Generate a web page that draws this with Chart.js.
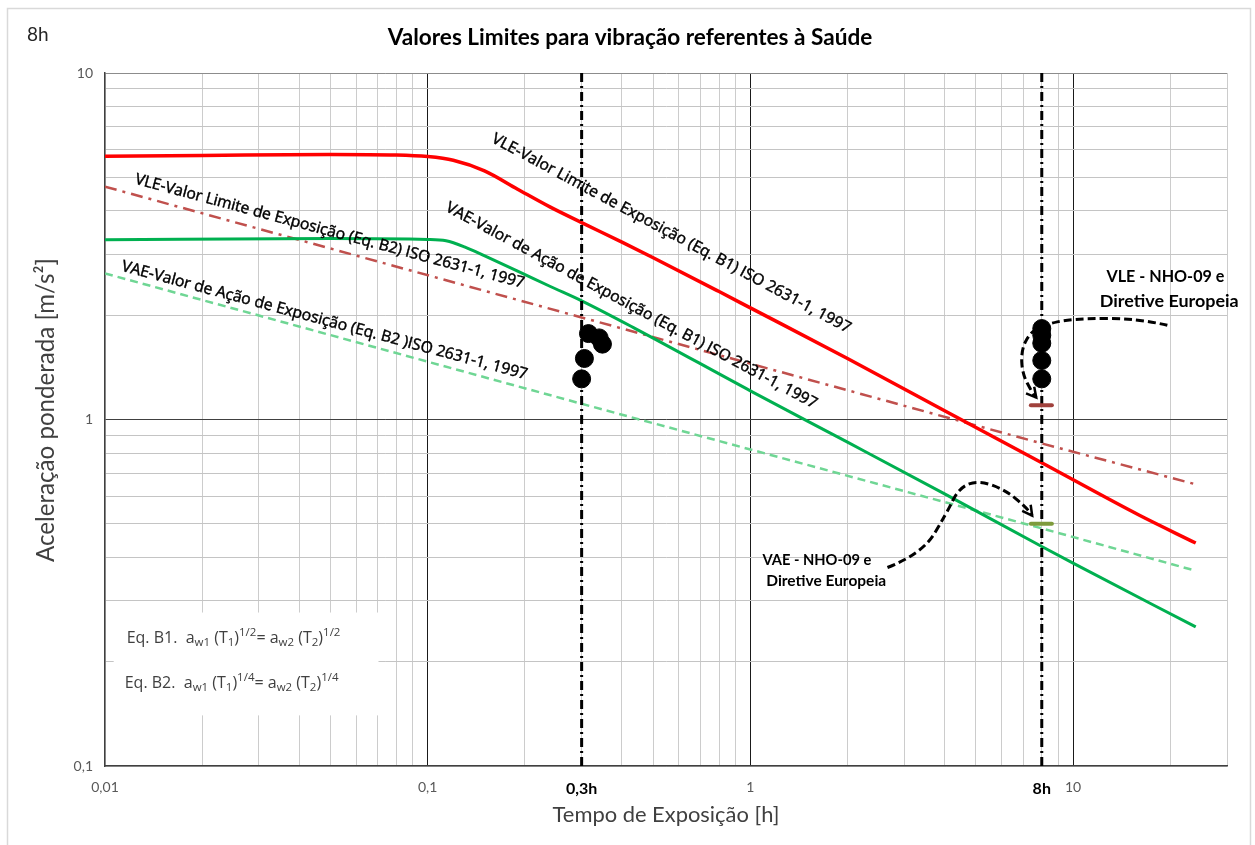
<!DOCTYPE html>
<html lang="pt">
<head>
<meta charset="UTF-8">
<title>Valores Limites para vibração</title>
<script src="https://cdn.jsdelivr.net/npm/chart.js"></script>
<style>
    body { margin: 0; background: #fff; }
    .chart-box { width: 1255px; height: 845px; position: relative; }
</style>
</head>
<body>
<div class="chart-box"><canvas id="chart"></canvas></div>
<script>
// ---- data (T in hours, a in m/s²) ----
const tVleB1 = [0.01, 0.02, 0.05, 0.08, 0.1, 0.12, 0.15, 0.19, 0.24, 0.3, 0.4, 0.5, 0.8, 1, 2, 4, 8, 16, 24];
const aVleB1 = [5.75, 5.78, 5.82, 5.8, 5.74, 5.6, 5.22, 4.62, 4.1, 3.7, 3.25, 2.93, 2.34, 2.1, 1.5, 1.06, 0.75, 0.53, 0.44];

const tVaeB1 = [0.01, 0.05, 0.1, 0.114, 0.13, 0.152, 0.19, 0.24, 0.3, 0.44, 1, 2, 4, 8, 10, 24];
const aVaeB1 = [3.3, 3.33, 3.31, 3.28, 3.15, 2.95, 2.68, 2.42, 2.2, 1.83, 1.21, 0.86, 0.61, 0.43, 0.385, 0.252];

const tVleB2 = [0.01, 0.3, 8, 24];
const aVleB2 = [4.7, 1.97, 0.853, 0.65];

const tVaeB2 = [0.01, 0.3, 8, 24];
const aVaeB2 = [2.64, 1.11, 0.485, 0.366];

const tDots = [0.315, 0.34, 0.348, 0.306, 0.30, 8, 8, 8, 8, 8];
const aDots = [1.77, 1.72, 1.65, 1.50, 1.31, 1.83, 1.75, 1.66, 1.48, 1.31];

const tNho = [7.4, 8.6];
const aVleNho = [1.1, 1.1];
const aVaeNho = [0.5, 0.5];

const markTimes = [0.3, 8];

const xTicks = [0.01, 0.02, 0.03, 0.04, 0.05, 0.06, 0.07, 0.08, 0.09,
                0.1, 0.2, 0.3, 0.4, 0.5, 0.6, 0.7, 0.8, 0.9,
                1, 2, 3, 4, 5, 6, 7, 8, 9, 10, 20, 30];
const yTicks = [0.1, 0.2, 0.3, 0.4, 0.5, 0.6, 0.7, 0.8, 0.9,
                1, 2, 3, 4, 5, 6, 7, 8, 9, 10];
const xLabels = { 0.01: '0,01', 0.1: '0,1', 0.3: '0,3h', 1: '1', 8: '8h', 10: '10' };
const yLabels = { 0.1: '0,1', 1: '1', 10: '10' };

const FONT = 'Lato, "Open Sans", sans-serif';
const NOTE_FONT = '"Open Sans", Lato, sans-serif';

const pts = (ts, as) => ts.map((t, i) => ({ x: t, y: as[i] }));

// annotation texts placed in data space
const curveLabels = [
    { text: 'VLE-Valor Limite de Exposição (Eq. B1) ISO 2631-1, 1997', t: 0.569, a: 3.44, slope: 0.5, len: 405 },
    { text: 'VLE-Valor Limite de Exposição (Eq. B2) ISO 2631-1, 1997', t: 0.0497, a: 3.49, slope: 0.25, len: 403 },
    { text: 'VAE-Valor de Ação de Exposição (Eq. B1) ISO 2631-1, 1997', t: 0.428, a: 2.13, slope: 0.5, len: 419 },
    { text: 'VAE-Valor de Ação de Exposição (Eq. B2 )ISO 2631-1, 1997', t: 0.0479, a: 1.93, slope: 0.25, len: 420 }
];
const boldLabels = [
    { text: 'VLE - NHO-09 e', t: 12.7, a: 2.59, w: 118 },
    { text: 'Diretive Europeia', t: 12.1, a: 2.20, w: 139 },
    { text: 'VAE - NHO-09 e', t: 1.09, a: 0.392, w: 109 },
    { text: 'Diretive Europeia', t: 1.12, a: 0.342, w: 120 }
];
const arrowVle = { t: [19.6, 16.0, 9.94, 8.03, 7.32, 6.91, 6.96, 7.47, 7.69], a: [1.87, 1.957, 1.957, 1.87, 1.77, 1.58, 1.357, 1.196, 1.157] };
const arrowVae = { t: [2.66, 3.41, 4.05, 4.44, 5.12, 6.21, 7.16, 7.47], a: [0.374, 0.410, 0.535, 0.637, 0.667, 0.624, 0.557, 0.528] };

function fitFont(ctx, text, width, weight, family) {
    ctx.font = weight + ' 20px ' + (family || FONT);
    return 20 * width / ctx.measureText(text).width;
}

function drawArrow(ctx, sx, sy, path) {
    const p = path.t.map((t, i) => ({ x: sx.getPixelForValue(t), y: sy.getPixelForValue(path.a[i]) }));
    ctx.save();
    ctx.strokeStyle = '#000';
    ctx.lineWidth = 3;
    ctx.setLineDash([8, 4]);
    ctx.beginPath();
    ctx.moveTo(p[0].x, p[0].y);
    for (let i = 1; i < p.length - 1; i++) {
        const mx = (p[i].x + p[i + 1].x) / 2, my = (p[i].y + p[i + 1].y) / 2;
        ctx.quadraticCurveTo(p[i].x, p[i].y, mx, my);
    }
    const end = p[p.length - 1], prev = p[p.length - 2];
    ctx.lineTo(end.x, end.y);
    ctx.stroke();
    // head
    const ang = Math.atan2(end.y - prev.y, end.x - prev.x);
    ctx.setLineDash([]);
    ctx.lineWidth = 2.5;
    ctx.beginPath();
    ctx.moveTo(end.x - 11 * Math.cos(ang - 0.5), end.y - 11 * Math.sin(ang - 0.5));
    ctx.lineTo(end.x, end.y);
    ctx.lineTo(end.x - 11 * Math.cos(ang + 0.5), end.y - 11 * Math.sin(ang + 0.5));
    ctx.stroke();
    ctx.restore();
}

function drawEquation(ctx, x, y, parts) {
    let cx = x;
    parts.forEach(([txt, mode]) => {
        const size = mode === 0 ? 16 : 11.5;
        const dy = mode === 1 ? 4 : (mode === 2 ? -6 : 0);
        ctx.font = size + 'px ' + NOTE_FONT;
        ctx.fillText(txt, cx, y + dy);
        cx += ctx.measureText(txt).width;
    });
}

const decorations = {
    id: 'decorations',
    beforeDatasetsDraw(chart) {
        const { ctx, scales: { x, y } } = chart;
        // white box behind the equations
        const x0 = x.getPixelForValue(0.01064), x1 = x.getPixelForValue(0.0704);
        const y0 = y.getPixelForValue(0.2773), y1 = y.getPixelForValue(0.140);
        ctx.save();
        ctx.fillStyle = '#fff';
        ctx.fillRect(x0, y0, x1 - x0, y1 - y0);
        ctx.restore();
    },
    afterDatasetsDraw(chart) {
        const { ctx, scales: { x, y } } = chart;
        ctx.save();
        ctx.fillStyle = '#000';
        ctx.strokeStyle = '#000';
        ctx.textBaseline = 'middle';

        curveLabels.forEach(l => {
            const px = x.getPixelForValue(l.t), py = y.getPixelForValue(l.a);
            const qx = x.getPixelForValue(l.t * 2), qy = y.getPixelForValue(l.a * Math.pow(2, -l.slope));
            const ang = Math.atan2(qy - py, qx - px);
            const size = fitFont(ctx, l.text, l.len, 'normal', NOTE_FONT);
            ctx.save();
            ctx.translate(px, py);
            ctx.rotate(ang);
            ctx.font = size + 'px ' + NOTE_FONT;
            ctx.textAlign = 'center';
            ctx.lineWidth = 0.45;
            ctx.fillText(l.text, 0, 0);
            ctx.strokeText(l.text, 0, 0);
            ctx.restore();
        });

        boldLabels.forEach(l => {
            const size = fitFont(ctx, l.text, l.w, 'bold');
            ctx.font = 'bold ' + size + 'px ' + FONT;
            ctx.textAlign = 'left';
            ctx.fillText(l.text, x.getPixelForValue(l.t), y.getPixelForValue(l.a));
        });

        drawArrow(ctx, x, y, arrowVle);
        drawArrow(ctx, x, y, arrowVae);

        ctx.fillStyle = '#404040';
        ctx.textAlign = 'left';
        drawEquation(ctx, x.getPixelForValue(0.01167), y.getPixelForValue(0.2333),
            [['Eq. B1.  a', 0], ['w1', 1], [' (T', 0], ['1', 1], [')', 0], ['1/2', 2], ['= a', 0], ['w2', 1], [' (T', 0], ['2', 1], [')', 0], ['1/2', 2]]);
        drawEquation(ctx, x.getPixelForValue(0.01151), y.getPixelForValue(0.173),
            [['Eq. B2.  a', 0], ['w1', 1], [' (T', 0], ['1', 1], [')', 0], ['1/4', 2], ['= a', 0], ['w2', 1], [' (T', 0], ['2', 1], [')', 0], ['1/4', 2]]);
        ctx.restore();
    },
    afterDraw(chart) {
        const { ctx, chartArea: ca } = chart;
        ctx.save();
        // outer frame
        ctx.strokeStyle = '#d9d9d9';
        ctx.lineWidth = 1.5;
        ctx.strokeRect(7.5, 8.5, 1243, 860);
        // titles
        ctx.fillStyle = '#000';
        ctx.textAlign = 'center';
        ctx.textBaseline = 'middle';
        const title = 'Valores Limites para vibração referentes à Saúde';
        ctx.font = 'bold ' + fitFont(ctx, title, 485, 'bold') + 'px ' + FONT;
        ctx.fillText(title, 630, 38);
        ctx.textAlign = 'left';
        ctx.fillStyle = '#262626';
        ctx.font = '19px ' + FONT;
        ctx.fillText('8h', 27, 35);
        ctx.fillStyle = '#404040';
        ctx.textAlign = 'center';
        const xt = 'Tempo de Exposição [h]';
        ctx.font = fitFont(ctx, xt, 227, 'normal') + 'px ' + FONT;
        ctx.fillText(xt, (ca.left + ca.right) / 2, 815);
        const yt = 'Aceleração ponderada [m/s²]';
        ctx.font = fitFont(ctx, yt, 304, 'normal') + 'px ' + FONT;
        ctx.translate(46, 410);
        ctx.rotate(-Math.PI / 2);
        ctx.fillText(yt, 0, 0);
        ctx.restore();
    }
};

new Chart(document.getElementById('chart'), {
    type: 'line',
    data: {
        datasets: [
            { data: pts(tDots, aDots), showLine: false, pointRadius: 9, pointHoverRadius: 9,
              pointBackgroundColor: '#000', pointBorderColor: '#000' },
            { data: pts(tNho, aVleNho), borderColor: '#a0413c', borderWidth: 4, borderCapStyle: 'round', pointRadius: 0 },
            { data: pts(tNho, aVaeNho), borderColor: '#7e9b3c', borderWidth: 4, borderCapStyle: 'round', pointRadius: 0 },
            { data: pts([markTimes[0], markTimes[0]], [0.1, 10]), borderColor: '#000', borderWidth: 3,
              borderDash: [9, 4, 2, 4], pointRadius: 0 },
            { data: pts([markTimes[1], markTimes[1]], [0.1, 10]), borderColor: '#000', borderWidth: 3,
              borderDash: [9, 4, 2, 4], pointRadius: 0 },
            { data: pts(tVleB1, aVleB1), borderColor: '#ff0000', borderWidth: 3.5, pointRadius: 0,
              cubicInterpolationMode: 'monotone' },
            { data: pts(tVaeB1, aVaeB1), borderColor: '#00b050', borderWidth: 3, pointRadius: 0,
              cubicInterpolationMode: 'monotone' },
            { data: pts(tVleB2, aVleB2), borderColor: '#c0504d', borderWidth: 2.5, pointRadius: 0,
              borderDash: [12, 6, 3, 6] },
            { data: pts(tVaeB2, aVaeB2), borderColor: '#6fd694', borderWidth: 2.5, pointRadius: 0,
              borderDash: [8, 5] }
        ]
    },
    options: {
        responsive: true,
        maintainAspectRatio: false,
        animation: false,
        layout: { padding: { top: 73, right: 28, left: 0, bottom: 0 } },
        plugins: { legend: { display: false }, title: { display: false }, tooltip: { enabled: false } },
        scales: {
            x: {
                type: 'logarithmic',
                min: 0.01, max: 30,
                afterBuildTicks: s => { s.ticks = xTicks.map(v => ({ value: v })); },
                afterFit: s => { s.height = 79; },
                ticks: {
                    autoSkip: false, maxRotation: 0, padding: 13,
                    color: ctx => (ctx.tick && (ctx.tick.value === 0.3 || ctx.tick.value === 8)) ? '#000' : '#595959',
                    font: ctx => (ctx.tick && (ctx.tick.value === 0.3 || ctx.tick.value === 8))
                        ? { family: FONT, size: 16, weight: 'bold' } : { family: FONT, size: 14 },
                    callback: v => xLabels[v] || ''
                },
                grid: {
                    drawTicks: false,
                    color: ctx => [0.1, 1, 10].includes(ctx.tick && ctx.tick.value) ? '#1a1a1a' : '#cccccc',
                    lineWidth: 1
                },
                border: { color: '#404040', width: 1.5 }
            },
            y: {
                type: 'logarithmic',
                min: 0.1, max: 10,
                afterBuildTicks: s => { s.ticks = yTicks.map(v => ({ value: v })); },
                afterFit: s => { s.width = 105; },
                ticks: {
                    autoSkip: false, padding: 12, color: '#595959',
                    font: { family: FONT, size: 14 },
                    callback: v => yLabels[v] || ''
                },
                grid: {
                    drawTicks: false,
                    color: ctx => {
                        const v = ctx.tick && ctx.tick.value;
                        if (v === 1) return '#404040';
                        if (v === 10) return '#8c8c8c';
                        return '#c4c4c4';
                    },
                    lineWidth: 1
                },
                border: { color: '#404040', width: 1.5 }
            }
        }
    },
    plugins: [decorations]
});
</script>
</body>
</html>
